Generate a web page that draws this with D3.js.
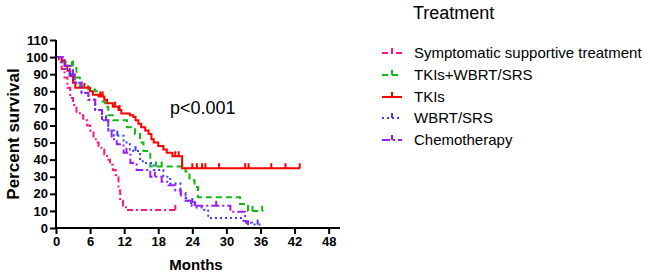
<!DOCTYPE html>
<html>
<head>
<meta charset="utf-8">
<script src="https://cdn.jsdelivr.net/npm/d3@7"></script>
<style>
  body { margin: 0; background: #fff; }
  svg { font-family: Arial, "Liberation Sans", sans-serif; }
  .axis path, .axis line { stroke: #000; stroke-width: 2px; }
  .axis text { font-size: 13px; font-weight: bold; fill: #000; }
</style>
</head>
<body>
<div id="chart"></div>
<script>
// survival curves (months, percent survival)
var seriesNames = ["Symptomatic supportive treatment", "TKIs+WBRT/SRS", "TKIs", "WBRT/SRS", "Chemotherapy"];
var seriesColors = ["#ff1480", "#11b811", "#ff0000", "#3d3dff", "#9b1cf0"];
var seriesDash = ["6,3,2,3", "6,4", null, "2,3", "8,3,2,3"];

var pinkT = [0, 0.5, 1, 1.5, 2, 2.5, 3, 3.6, 4.2, 4.8, 5.5, 6, 6.6, 7, 7.5, 8, 8.5, 9, 9.5, 10, 10.5, 11, 11.3, 11.8, 12.3, 21];
var pinkS = [100, 97, 93, 88, 82, 76, 72, 68, 66, 63, 60, 57, 52, 50, 48, 46, 43, 40, 37, 34, 31, 22, 16, 13, 10.5, 10.5];
var pinkCensor = [21];

var greenT = [0, 1, 1.5, 2.8, 3.6, 4.2, 5.7, 6.9, 7.5, 8.2, 8.6, 9.2, 10, 12.5, 13.9, 14.8, 15.4, 16.6, 22.8, 23.5, 24.4, 25, 32.4, 33.8, 36.5];
var greenS = [100, 98, 97, 95, 88, 83, 81, 80, 78, 74, 71, 66, 63, 59, 55, 50, 45, 36, 33, 28, 24, 18, 14, 10, 10];
var greenCensor = [3, 17.6, 18.6, 22.2, 34.6, 36.3];

var redT = [0, 1, 1.5, 2, 2.5, 3, 3.4, 6, 6.5, 7.5, 8.5, 9, 10, 11, 11.5, 13, 13.6, 14, 14.5, 15, 15.7, 16.3, 16.8, 17.2, 18, 18.9, 19.5, 20.5, 22.2, 43];
var redS = [100, 98, 95, 92, 89, 85, 82, 80, 78, 77, 75, 73, 71, 69, 67, 66, 65, 63, 61, 59, 57, 55, 52, 50, 48, 46, 44, 42, 35, 35];
var redCensor = [5, 7.8, 8.2, 10.4, 11.2, 21, 21.6, 24, 24.8, 25.7, 26.3, 28.7, 33.3, 33.9, 37.9, 40.4, 42.9];

var blueT = [0, 1, 1.6, 2.4, 3.3, 4.5, 5.7, 6.9, 8.1, 9.2, 10.2, 11.9, 13, 13.6, 14.8, 15.5, 17.2, 18.9, 20.1, 21.9, 22.8, 23.3, 24.5, 26, 26.8, 33, 34.5, 36.3];
var blueS = [100, 97, 93, 89, 85, 79, 75, 69, 63, 57, 54, 50, 46, 45, 39, 38, 34, 30, 26, 20.5, 17.5, 14.6, 12, 10.7, 5.8, 3, 2, 2];
var blueCensor = [2.4, 8.8, 10.8, 14, 24, 35.5];

var purpleT = [0, 1.2, 1.6, 2.5, 3.3, 4.5, 5.7, 6.9, 8.1, 9.2, 9.8, 10.7, 11.9, 13.1, 14.2, 16.6, 18.6, 19.8, 21, 22, 22.8, 23.9, 30.7, 33.3, 33.8, 34];
var purpleS = [100, 98, 95, 90, 85, 79, 75, 69, 63, 57, 52, 49, 44, 38, 34, 30, 27, 25, 22, 19, 16, 13, 9.5, 4, 0, 0];
var purpleCensor = [3, 12.4, 17.4, 24.4, 28.2];

var xTicks = [0, 6, 12, 18, 24, 30, 36, 42, 48];
var yTicks = [0, 10, 20, 30, 40, 50, 60, 70, 80, 90, 100, 110];

var allT = [pinkT, greenT, redT, blueT, purpleT];
var allS = [pinkS, greenS, redS, blueS, purpleS];
var allCensor = [pinkCensor, greenCensor, redCensor, blueCensor, purpleCensor];

var margin = {top: 40, left: 56};
var width = 284;
var height = 188;

var svg = d3.select("#chart")
  .append("svg")
  .attr("width", 650)
  .attr("height", 275);

var g = svg.append("g")
  .attr("transform", "translate(" + margin.left + "," + margin.top + ")");

var x = d3.scaleLinear().domain([0, 50]).range([0, width]);
var y = d3.scaleLinear().domain([0, 110]).range([height, 0]);

// value of a step curve at time t
function survivalAt(ts, ss, t) {
  var v = ss[0];
  for (var i = 0; i < ts.length; i++) {
    if (ts[i] <= t) v = ss[i];
  }
  return v;
}

var line = d3.line()
  .x(function(d) { return x(d[0]); })
  .y(function(d) { return y(d[1]); })
  .curve(d3.curveStepAfter);

// draw curves
for (var k = 0; k < 5; k++) {
  var pts = allT[k].map(function(t, i) { return [t, allS[k][i]]; });
  g.append("path")
    .datum(pts)
    .attr("fill", "none")
    .attr("stroke", seriesColors[k])
    .attr("stroke-width", 2)
    .attr("stroke-dasharray", seriesDash[k])
    .attr("d", line);

  var ts = allT[k], ss = allS[k];
  g.selectAll(".censor" + k)
    .data(allCensor[k])
    .enter()
    .append("line")
    .attr("class", "censor" + k)
    .attr("x1", function(d) { return x(d); })
    .attr("x2", function(d) { return x(d); })
    .attr("y1", function(d) { return y(survivalAt(ts, ss, d)); })
    .attr("y2", function(d) { return y(survivalAt(ts, ss, d)) - 5; })
    .attr("stroke", seriesColors[k])
    .attr("stroke-width", 2);
}

// axes
var xAxis = d3.axisBottom(x).tickValues(xTicks).tickSize(6).tickPadding(3);
var yAxis = d3.axisLeft(y).tickValues(yTicks).tickSize(6).tickPadding(2);

g.append("g")
  .attr("class", "x axis")
  .attr("transform", "translate(0," + height + ")")
  .call(xAxis);

g.append("g")
  .attr("class", "y axis")
  .call(yAxis);

g.selectAll(".axis path").attr("d", function() {
  return d3.select(this.parentNode).classed("x") ? "M0,0H" + width : "M0," + height + "V0";
});

svg.append("text")
  .attr("x", 196)
  .attr("y", 270)
  .attr("text-anchor", "middle")
  .style("font-size", "15px")
  .style("font-weight", "bold")
  .text("Months");

svg.append("text")
  .attr("transform", "rotate(-90)")
  .attr("x", -134)
  .attr("y", 19)
  .attr("text-anchor", "middle")
  .style("font-size", "17px")
  .style("font-weight", "bold")
  .text("Percent survival");

svg.append("text")
  .attr("x", 170)
  .attr("y", 114)
  .style("font-size", "18px")
  .text("p<0.001");

// legend
svg.append("text")
  .attr("x", 413)
  .attr("y", 19)
  .style("font-size", "18px")
  .text("Treatment");

var legendY = [53, 75, 97, 118, 140];
var legend = svg.selectAll(".legend")
  .data(seriesNames)
  .enter()
  .append("g")
  .attr("class", "legend")
  .attr("transform", function(d, i) { return "translate(382," + legendY[i] + ")"; });

legend.append("line")
  .attr("x1", 0).attr("x2", 20)
  .attr("y1", 0).attr("y2", 0)
  .attr("stroke", function(d, i) { return seriesColors[i]; })
  .attr("stroke-width", 2)
  .attr("stroke-dasharray", function(d, i) { return seriesDash[i]; });

legend.append("line")
  .attr("x1", 10).attr("x2", 10)
  .attr("y1", 0).attr("y2", -5)
  .attr("stroke", function(d, i) { return seriesColors[i]; })
  .attr("stroke-width", 2);

legend.append("text")
  .attr("x", 32)
  .attr("y", 5)
  .style("font-size", "15px")
  .text(function(d) { return d; });
</script>
</body>
</html>
